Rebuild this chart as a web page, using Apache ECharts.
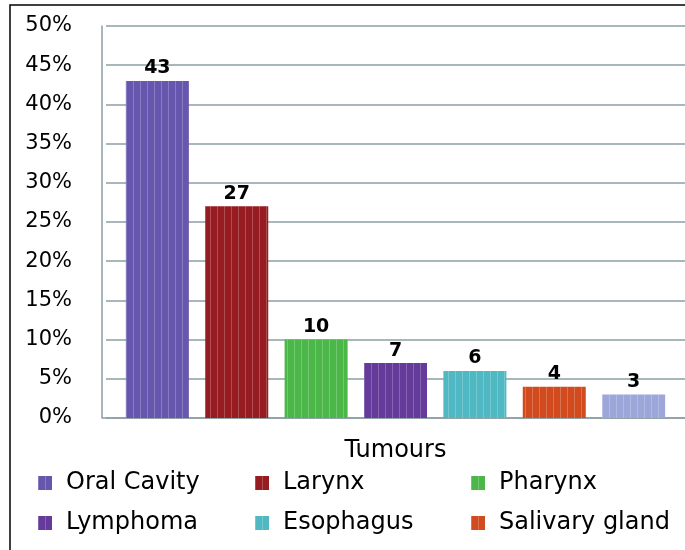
<!DOCTYPE html>
<html>
<head>
<meta charset="utf-8">
<script src="https://cdn.jsdelivr.net/npm/echarts@6/dist/echarts.min.js"></script>
<style>
html,body{margin:0;padding:0;background:#fff;}
#chart{width:685px;height:550px;}
</style>
</head>
<body>
<div id="chart"></div>
<script>
// Data
var categories = ['Tumours'];
var seriesNames = ['Oral Cavity', 'Larynx', 'Pharynx', 'Lymphoma', 'Esophagus', 'Salivary gland', 'Others'];
var seriesValues = [43, 27, 10, 7, 6, 4, 3];
var legendNames = ['Oral Cavity', 'Larynx', 'Pharynx', 'Lymphoma', 'Esophagus', 'Salivary gland'];
var yTickLabels = ['0%', '5%', '10%', '15%', '20%', '25%', '30%', '35%', '40%', '45%', '50%'];

// Styles
var colors = ['#6656ad', '#971c21', '#4bb749', '#643a9a', '#4fb8c2', '#d24b1f', '#9da6d9'];
var FONT = 'DejaVu Sans';
var gridColor = '#8b9fa3';

var chart = echarts.init(document.getElementById('chart'), null, {renderer: 'canvas'});

var series = seriesNames.map(function (n, i) {
  return {
    name: n,
    type: 'bar',
    data: [seriesValues[i]],
    barWidth: 63,
    barGap: '26%',
    itemStyle: {
      color: colors[i],
      decal: {
        symbol: 'rect',
        symbolSize: 1,
        dashArrayX: [1, 6],
        dashArrayY: [1, 0],
        rotation: 0,
        color: 'rgba(255,255,255,0.22)'
      }
    },
    label: {
      show: true,
      position: 'top',
      distance: 3,
      formatter: '{c}',
      fontFamily: FONT,
      fontWeight: 'bold',
      fontSize: 19,
      color: '#000'
    }
  };
});

var legendPos = [
  {left: 38, top: 471}, {left: 255, top: 471}, {left: 471, top: 471},
  {left: 38, top: 511}, {left: 255, top: 511}, {left: 471, top: 511}
];
var legends = legendNames.map(function (n, i) {
  return {
    data: [{name: n, icon: 'rect'}],
    left: legendPos[i].left,
    top: legendPos[i].top,
    padding: 0,
    itemWidth: 14,
    itemHeight: 14,
    selectedMode: false,
    textStyle: {fontFamily: FONT, fontSize: 24, color: '#000', padding: [0, 0, 0, 9]}
  };
});

chart.setOption({
  animation: false,
  aria: {decal: {show: false}},
  grid: {left: 106, top: 26, right: 0, height: 392, containLabel: false},
  xAxis: {
    type: 'category',
    data: categories,
    axisLine: {show: true, lineStyle: {color: gridColor, width: 1.5}},
    axisTick: {show: false},
    axisLabel: {fontFamily: FONT, fontSize: 24, color: '#000', margin: 21}
  },
  yAxis: {
    type: 'value',
    min: 0,
    max: 50,
    interval: 5,
    offset: 4,
    axisLine: {show: true, lineStyle: {color: gridColor, width: 1.5}},
    axisTick: {show: false},
    axisLabel: {
      fontFamily: FONT, fontSize: 21, color: '#000', margin: 30,
      formatter: function (v) { return yTickLabels[Math.round(v / 5)]; }
    },
    splitLine: {show: true, lineStyle: {color: gridColor, width: 1.5}}
  },
  legend: legends,
  series: series,
  graphic: [{
    type: 'rect',
    shape: {x: 10, y: 5, width: 700, height: 600},
    style: {fill: 'none', stroke: '#000', lineWidth: 1.5},
    silent: true,
    z: 100
  }, {
    type: 'line',
    shape: {x1: 102, y1: 418, x2: 106, y2: 418},
    style: {stroke: gridColor, lineWidth: 1.5},
    silent: true
  }]
});
</script>
</body>
</html>
